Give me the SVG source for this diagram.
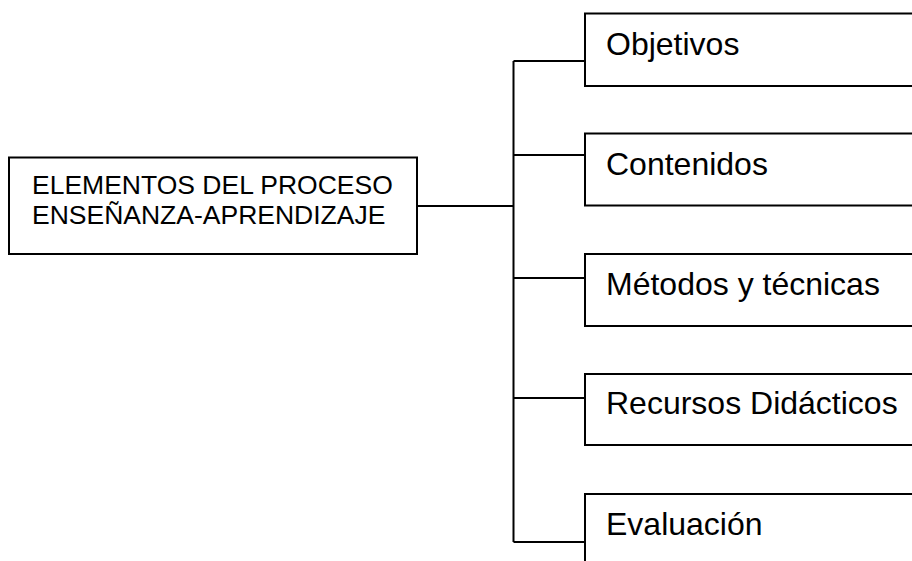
<svg xmlns="http://www.w3.org/2000/svg" width="912" height="561" viewBox="0 0 912 561">
<style>
.box{fill:#fff;stroke:#000;stroke-width:2}
.ln{fill:none;stroke:#000;stroke-width:2}
.t1{font-family:"Liberation Sans",Arial,sans-serif;font-size:26.5px;fill:#000}
.t2{font-family:"Liberation Sans",Arial,sans-serif;font-size:32px;fill:#000}
</style>
<rect width="912" height="561" fill="#fff"/>
<g id="connectors">
<path class="ln" d="M417,206 H513.5 M513.5,61 V542 M513.5,61 H585 M513.5,155 H585 M513.5,278 H585 M513.5,398 H585 M513.5,542 H585"/>
</g>
<g id="root">
<rect class="box" x="9" y="157.5" width="408" height="96.5"/>
<text class="t1" x="32" y="193.5">ELEMENTOS DEL PROCESO</text>
<text class="t1" x="32" y="223.5">ENSEÑANZA-APRENDIZAJE</text>
</g>
<g id="objetivos">
<rect class="box" x="585" y="13.5" width="400" height="72.5"/>
<text class="t2" x="606" y="55">Objetivos</text>
</g>
<g id="contenidos">
<rect class="box" x="585" y="133.5" width="400" height="72"/>
<text class="t2" x="606" y="174.5">Contenidos</text>
</g>
<g id="metodos">
<rect class="box" x="585" y="254" width="400" height="72"/>
<text class="t2" x="606" y="294.5">Métodos y técnicas</text>
</g>
<g id="recursos">
<rect class="box" x="585" y="374" width="400" height="71"/>
<text class="t2" x="606" y="414">Recursos Didácticos</text>
</g>
<g id="evaluacion">
<rect class="box" x="585" y="494" width="400" height="100"/>
<text class="t2" x="606" y="535">Evaluación</text>
</g>
</svg>
